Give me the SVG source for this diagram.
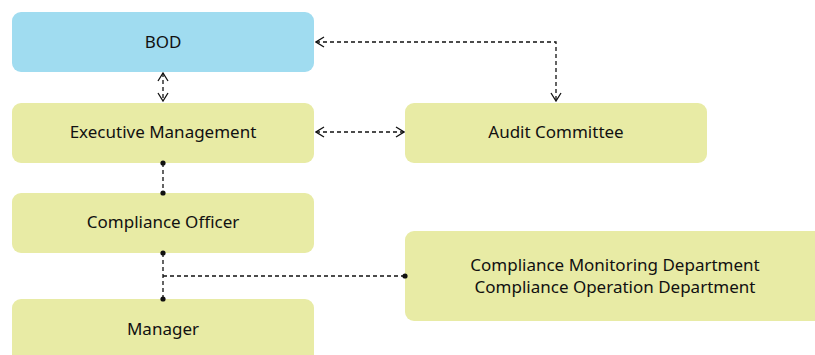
<svg xmlns="http://www.w3.org/2000/svg" width="815" height="355" viewBox="0 0 815 355">
<defs>
<style>
.box{fill:#e8eba5}
.blue{fill:#a0dcf0}
text{font-family:"Noto Sans","Open Sans",sans-serif;font-size:17px;fill:#111;text-anchor:middle;dominant-baseline:central}
.c{fill:none;stroke:#111;stroke-width:1.3;stroke-dasharray:4 3}
</style>
<marker id="ar" viewBox="0 0 10 12" refX="9" refY="6" markerWidth="10" markerHeight="12" markerUnits="userSpaceOnUse" orient="auto-start-reverse">
<path d="M1,1 L9,6 L1,11" fill="none" stroke="#111" stroke-width="1.3"/>
</marker>
<marker id="dot" viewBox="0 0 6 6" refX="3" refY="3" markerWidth="6" markerHeight="6" markerUnits="userSpaceOnUse">
<circle cx="3" cy="3" r="2.6" fill="#111"/>
</marker>
</defs>
<g id="bod"><rect class="blue" x="12" y="12" width="302" height="60" rx="9"/><text x="163" y="41">BOD</text></g>
<g id="exec"><rect class="box" x="12" y="103" width="302" height="60" rx="9"/><text x="163" y="131">Executive Management</text></g>
<g id="audit"><rect class="box" x="405" y="103" width="302" height="60" rx="9"/><text x="556" y="131">Audit Committee</text></g>
<g id="officer"><rect class="box" x="12" y="193" width="302" height="60" rx="9"/><text x="163" y="221">Compliance Officer</text></g>
<g id="depts"><rect class="box" x="405" y="231" width="420" height="90" rx="9"/><text x="615" y="264">Compliance Monitoring Department</text><text x="615" y="286">Compliance Operation Department</text></g>
<g id="manager"><rect class="box" x="12" y="299" width="302" height="70" rx="9"/><text x="163" y="328">Manager</text></g>
<g id="connectors">
<path class="c" d="M163,73 V101" marker-start="url(#ar)" marker-end="url(#ar)"/>
<path class="c" d="M316,42 H556 V101" marker-start="url(#ar)" marker-end="url(#ar)"/>
<path class="c" d="M316,132 H404" marker-start="url(#ar)" marker-end="url(#ar)"/>
<path class="c" d="M163,163 V193" marker-start="url(#dot)" marker-end="url(#dot)"/>
<path class="c" d="M163,253 V299" marker-start="url(#dot)" marker-end="url(#dot)"/>
<path class="c" d="M163,276 H405" marker-end="url(#dot)"/>
</g>
</svg>
